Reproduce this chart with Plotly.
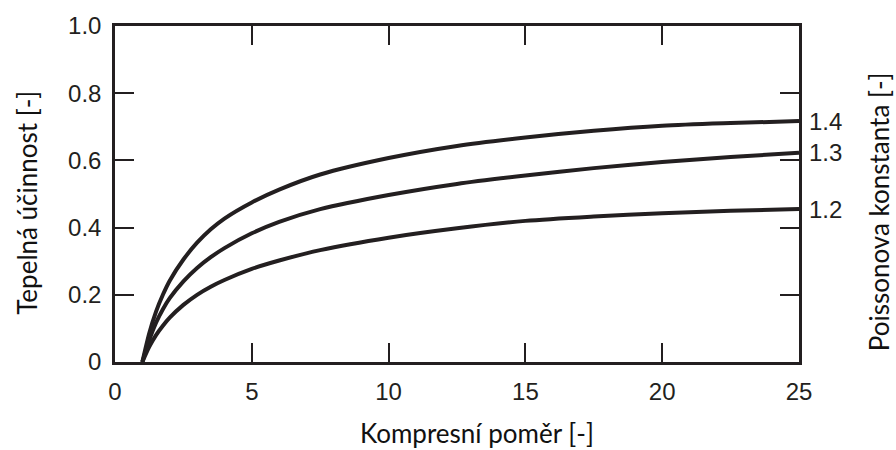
import plotly.graph_objects as go

# Compression ratio (x) and thermal efficiency for three heat-capacity ratios
compression_ratio = [1, 1.25, 1.5, 1.75, 2, 2.5, 3, 3.5, 4, 5, 6, 7.5, 10, 12.5, 15, 17.5, 20, 22.5, 25]
eff_k14 = [0, 0.085, 0.15, 0.2, 0.242, 0.305, 0.355, 0.395, 0.427, 0.475, 0.513, 0.558, 0.607, 0.643, 0.668, 0.688, 0.703, 0.711, 0.717]
eff_k13 = [0, 0.065, 0.117, 0.157, 0.19, 0.24, 0.28, 0.312, 0.339, 0.383, 0.417, 0.455, 0.497, 0.53, 0.555, 0.577, 0.595, 0.61, 0.623]
eff_k12 = [0, 0.045, 0.08, 0.108, 0.132, 0.17, 0.2, 0.224, 0.244, 0.277, 0.302, 0.333, 0.37, 0.398, 0.42, 0.433, 0.443, 0.45, 0.455]
kappa_labels = ["1.4", "1.3", "1.2"]

x_ticks = [0, 5, 10, 15, 20, 25]
y_ticks = [0, 0.2, 0.4, 0.6, 0.8, 1.0]
y_tick_text = ["0", "0.2", "0.4", "0.6", "0.8", "1.0"]

INK = "#231f20"
TICK_FONT = dict(family="Liberation Sans, Arial, sans-serif", size=24, color=INK)
TITLE_FONT = dict(family="Lato, Open Sans, sans-serif", size=26, color="#111111")

fig = go.Figure()
series = [eff_k14, eff_k13, eff_k12]
for ys, lab in zip(series, kappa_labels):
    fig.add_trace(go.Scatter(
        x=compression_ratio, y=ys, mode="lines", name=lab,
        line=dict(color=INK, width=4, shape="spline", smoothing=0.8),
        showlegend=False, hoverinfo="skip",
    ))
    # curve label at the right end of each line
    fig.add_annotation(
        x=compression_ratio[-1], y=ys[-1], xref="x", yref="y",
        text=lab, showarrow=False, xanchor="left", yanchor="middle",
        xshift=8, font=TICK_FONT,
    )

axis_common = dict(
    showgrid=False, zeroline=False, showline=True, linecolor=INK, linewidth=2.5,
    ticks="inside", ticklen=19, tickwidth=2, tickcolor=INK, mirror="ticks",
    tickfont=TICK_FONT,
)

fig.update_xaxes(range=[0, 25], tickvals=x_ticks, ticklabelstandoff=6, **axis_common)
fig.update_yaxes(range=[0, 1.0], tickvals=y_ticks, ticktext=y_tick_text,
                 ticklabelstandoff=6, **axis_common)

# Axis titles
fig.add_annotation(x=(477 - 115) / 684, y=-0.21, xref="paper", yref="paper",
                   text="Kompresní poměr [-]", showarrow=False,
                   xanchor="center", yanchor="middle", font=TITLE_FONT)
fig.add_annotation(x=-0.128, y=(362 - 200) / 341, xref="paper", yref="paper",
                   text="Tepelná účinnost [-]", showarrow=False, textangle=-90,
                   xanchor="center", yanchor="middle", font=TITLE_FONT)
fig.add_annotation(x=(879 - 115) / 684, y=(362 - 210) / 341, xref="paper", yref="paper",
                   text="Poissonova konstanta [-]", showarrow=False, textangle=-90,
                   xanchor="center", yanchor="middle", font=TITLE_FONT)

fig.update_layout(
    width=896, height=450,
    margin=dict(l=115, r=97, t=21, b=88),
    plot_bgcolor="white", paper_bgcolor="white",
)

fig.write_html("out.html")
